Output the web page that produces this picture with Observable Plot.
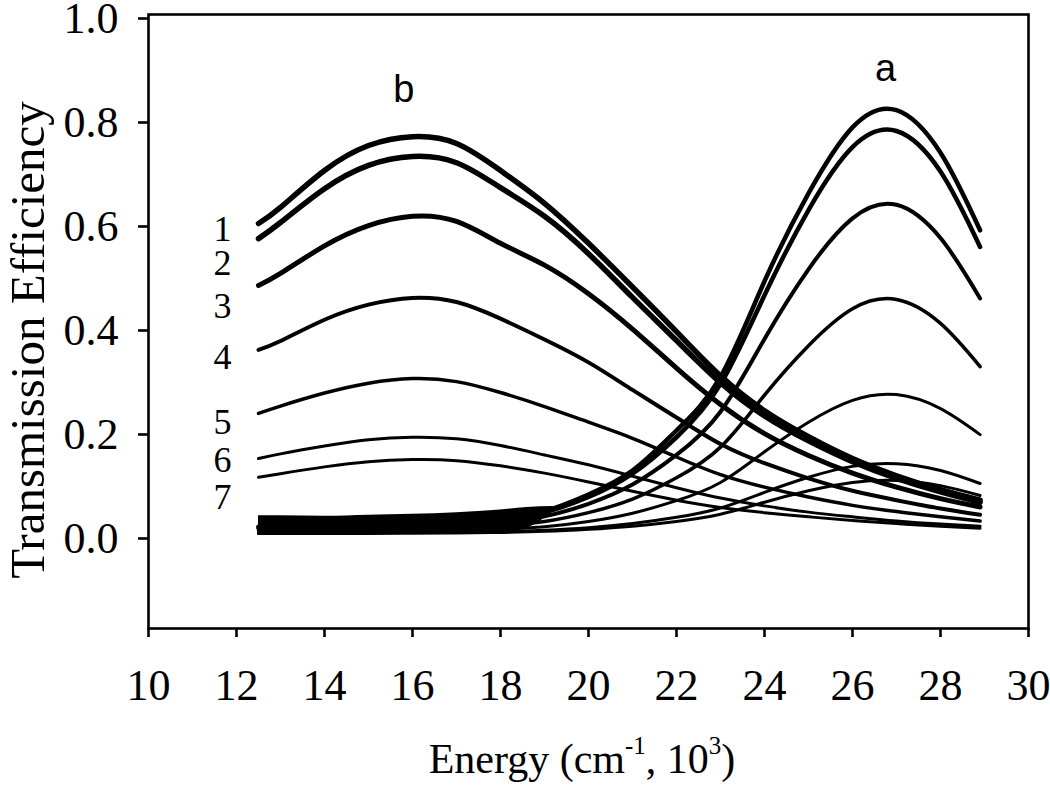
<!DOCTYPE html>
<html><head><meta charset="utf-8">
<script src="https://cdn.jsdelivr.net/npm/d3@7"></script>
<script src="https://cdn.jsdelivr.net/npm/@observablehq/plot@0.6"></script>
<style>html,body{margin:0;padding:0;background:#fff} svg{display:block}</style>
</head><body><div id="chart"></div>
<script>
// Energy (10^3 cm^-1) sample positions
const energy = [12.5, 13, 14, 15, 16, 17, 18, 19, 20, 21, 22, 23, 24, 25, 26, 27, 28, 28.9];
// family "b" (peak near 16)
const b1 = [0.598, 0.629, 0.700, 0.748, 0.765, 0.752, 0.700, 0.637, 0.560, 0.476, 0.390, 0.305, 0.238, 0.188, 0.146, 0.113, 0.086, 0.066];
const b2 = [0.569, 0.600, 0.665, 0.710, 0.727, 0.715, 0.667, 0.612, 0.540, 0.456, 0.373, 0.292, 0.228, 0.180, 0.140, 0.108, 0.082, 0.062];
const b3 = [0.479, 0.502, 0.555, 0.594, 0.612, 0.602, 0.560, 0.518, 0.463, 0.395, 0.320, 0.250, 0.194, 0.152, 0.118, 0.091, 0.069, 0.053];
const b4 = [0.355, 0.372, 0.413, 0.442, 0.455, 0.447, 0.415, 0.375, 0.331, 0.278, 0.225, 0.174, 0.137, 0.108, 0.084, 0.066, 0.050, 0.038];
const b5 = [0.233, 0.247, 0.272, 0.291, 0.300, 0.294, 0.273, 0.246, 0.216, 0.185, 0.149, 0.115, 0.091, 0.072, 0.056, 0.044, 0.034, 0.026];
const b6 = [0.146, 0.155, 0.170, 0.182, 0.187, 0.184, 0.171, 0.153, 0.134, 0.112, 0.090, 0.070, 0.055, 0.043, 0.034, 0.026, 0.020, 0.016];
const b7 = [0.110, 0.117, 0.130, 0.140, 0.144, 0.142, 0.132, 0.118, 0.101, 0.083, 0.066, 0.052, 0.042, 0.034, 0.027, 0.021, 0.016, 0.012];
// family "a" (peak near 26.7)
const a1 = [0.015, 0.015, 0.016, 0.017, 0.020, 0.024, 0.031, 0.045, 0.077, 0.123, 0.200, 0.303, 0.487, 0.656, 0.783, 0.816, 0.734, 0.585];
const a2 = [0.014, 0.014, 0.015, 0.016, 0.019, 0.023, 0.030, 0.043, 0.072, 0.117, 0.187, 0.289, 0.460, 0.624, 0.745, 0.776, 0.698, 0.553];
const a3 = [0.011, 0.011, 0.012, 0.013, 0.015, 0.018, 0.024, 0.035, 0.059, 0.096, 0.153, 0.236, 0.376, 0.510, 0.608, 0.634, 0.570, 0.454];
const a4 = [0.008, 0.008, 0.009, 0.010, 0.011, 0.013, 0.017, 0.025, 0.042, 0.068, 0.109, 0.168, 0.268, 0.363, 0.434, 0.452, 0.406, 0.323];
const a5 = [0.005, 0.005, 0.005, 0.006, 0.006, 0.008, 0.010, 0.015, 0.025, 0.041, 0.065, 0.100, 0.159, 0.216, 0.258, 0.269, 0.242, 0.192];
const a6 = [0.0025, 0.0025, 0.003, 0.003, 0.003, 0.004, 0.005, 0.008, 0.013, 0.021, 0.033, 0.051, 0.081, 0.110, 0.131, 0.136, 0.123, 0.098];
const a7 = [0.002, 0.002, 0.002, 0.002, 0.003, 0.003, 0.004, 0.006, 0.010, 0.016, 0.025, 0.039, 0.062, 0.084, 0.100, 0.104, 0.094, 0.075];
// baseline noise envelope of the "a" spectra at low energy
const noiseX  = [12.5, 13, 14, 15, 16, 17, 18, 18.6, 19.2];
const noiseLo = [0.0, 0.0, 0.0, 0.001, 0.001, 0.002, 0.004, 0.012, 0.044];
const noiseHi = [0.036, 0.036, 0.035, 0.037, 0.039, 0.042, 0.047, 0.052, 0.054];
// sample labels (1..7) and family labels
const sampleLabels = ["1", "2", "3", "4", "5", "6", "7"];
const sampleLabelY = [0.587, 0.521, 0.438, 0.340, 0.215, 0.142, 0.071];
const sampleLabelX = 11.68;
const familyLabels = ["b", "a"];
const familyLabelX = [15.8, 26.75];
const familyLabelY = [0.831, 0.873];
// axis ticks
const xTicks = [10, 12, 14, 16, 18, 20, 22, 24, 26, 28, 30];
const yTicks = [0.0, 0.2, 0.4, 0.6, 0.8, 1.0];

const curves = [
  {name: "b1", v: b1}, {name: "b2", v: b2}, {name: "b3", v: b3}, {name: "b4", v: b4},
  {name: "b5", v: b5}, {name: "b6", v: b6}, {name: "b7", v: b7},
  {name: "a1", v: a1}, {name: "a2", v: a2}, {name: "a3", v: a3}, {name: "a4", v: a4},
  {name: "a5", v: a5}, {name: "a6", v: a6}, {name: "a7", v: a7}
];
const widths = {b1: 5.5, b2: 5.5, b3: 5, b4: 4, b5: 3.5, b6: 3, b7: 3, a1: 4.5, a2: 4.5, a3: 4, a4: 3.5, a5: 3, a6: 3, a7: 3};

const noiseRows = noiseX.map((x, i) => ({x, lo: noiseLo[i], hi: noiseHi[i]}));
const labelRows = sampleLabels.map((t, i) => ({t, x: sampleLabelX, y: sampleLabelY[i]}));
const famRows = familyLabels.map((t, i) => ({t, x: familyLabelX[i], y: familyLabelY[i]}));

const serif = "'Liberation Serif', 'Times New Roman', Times, serif";
const sans = "'Liberation Sans', Arial, Helvetica, sans-serif";

const marks = [
  Plot.areaY(noiseRows, {x: "x", y1: "lo", y2: "hi", fill: "black", curve: "monotone-x"}),
  ...curves.map(c => Plot.line(energy.map((x, i) => ({x, y: c.v[i]})), {
    x: "x", y: "y", stroke: "black", strokeWidth: widths[c.name], curve: "natural"
  })),
  Plot.frame({stroke: "black", strokeWidth: 2.6}),
  Plot.axisX({ticks: xTicks, tickSize: 9, tickPadding: 31, fontSize: 44, strokeWidth: 2.6, label: null, tickFormat: d => String(d)}),
  Plot.axisY({ticks: yTicks, tickSize: 10, tickPadding: 20, fontSize: 44, strokeWidth: 2.6, label: null, tickFormat: d => d.toFixed(1), dy: 4}),
  Plot.text(labelRows, {x: "x", y: "y", text: "t", fontSize: 36, fontFamily: serif, fill: "black"}),
  Plot.text(famRows, {x: "x", y: "y", text: "t", fontSize: 38, fontFamily: sans, lineAnchor: "bottom", fill: "black"})
];

const chart = Plot.plot({
  width: 1050,
  height: 785,
  marginLeft: 148,
  marginRight: 22,
  marginTop: 14,
  marginBottom: 157,
  style: {fontFamily: serif, color: "black", background: "white", overflow: "visible"},
  x: {domain: [10, 30]},
  y: {domain: [-0.1808, 1.0]},
  marks
});

const svg = d3.select(chart);
svg.append("text")
  .attr("transform", "translate(44,340) rotate(-90)")
  .attr("text-anchor", "middle")
  .attr("font-family", serif)
  .attr("font-size", 49)
  .attr("fill", "black")
  .text("Transmission Efficiency");

const xt = svg.append("text")
  .attr("x", 582).attr("y", 773)
  .attr("text-anchor", "middle")
  .attr("font-family", serif)
  .attr("font-size", 42)
  .attr("fill", "black");
xt.append("tspan").text("Energy (cm");
xt.append("tspan").attr("dy", -19).attr("font-size", 25).text("-1");
xt.append("tspan").attr("dy", 19).text(", 10");
xt.append("tspan").attr("dy", -19).attr("font-size", 25).text("3");
xt.append("tspan").attr("dy", 19).text(")");

document.getElementById("chart").appendChild(chart);
</script>
</body></html>
